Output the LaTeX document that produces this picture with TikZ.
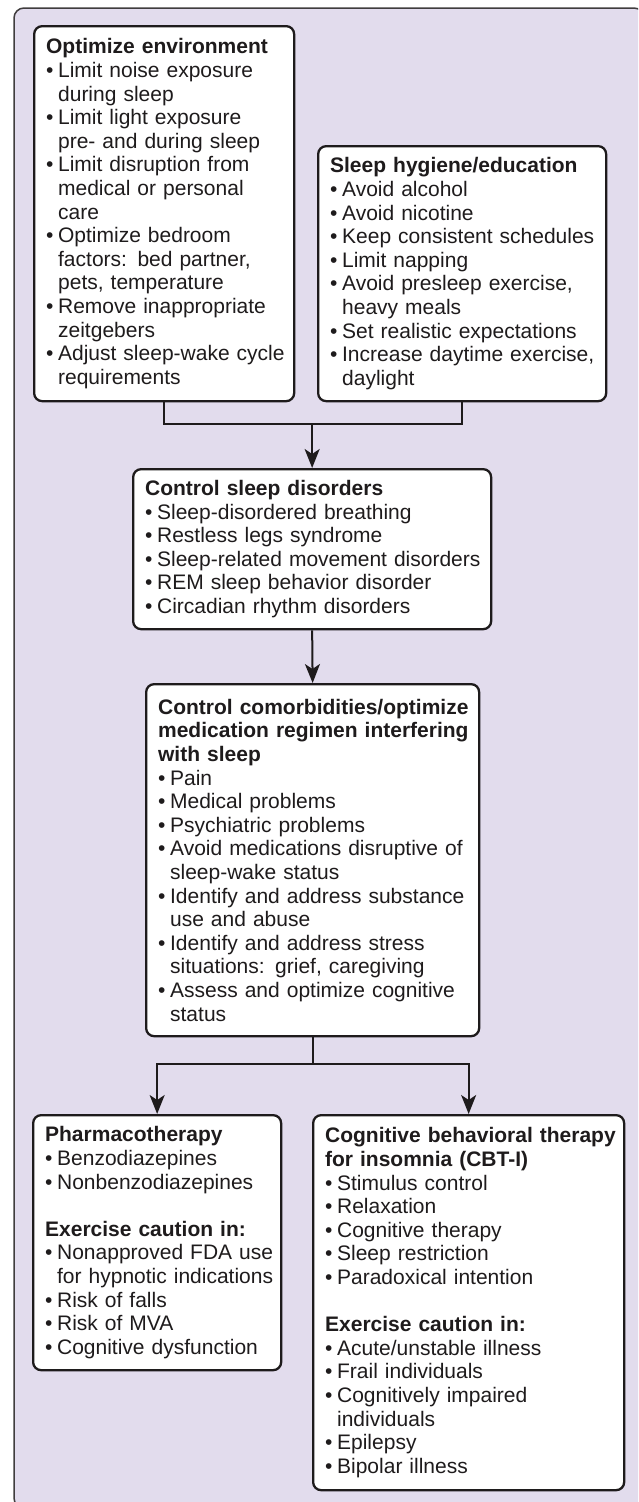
\documentclass[tikz,border=0pt]{standalone}
\usepackage{fontspec}
\setmainfont{Liberation Sans}
\usetikzlibrary{arrows.meta}

\definecolor{panelbg}{RGB}{226,220,237}
\definecolor{ink}{RGB}{30,27,28}

% box heading and bullet lines (hanging indent for wrapped lines)
\newcommand{\hd}[1]{\leftskip=12pt\relax\noindent\textbf{#1}}
\newcommand{\itm}[1]{\par\hangindent=12pt\hangafter=1\noindent\makebox[12pt][l]{\textbullet}#1}
\newcommand{\itmgap}{\par\vskip\baselineskip}

\begin{document}
\begin{tikzpicture}[x=1pt, y=-1pt,
    box/.style={draw=ink, line width=2.3pt, rounded corners=8pt, fill=white,
      text=ink, align=left, anchor=north west, inner xsep=0pt, inner ysep=0pt,
      font=\fontsize{21}{23.6}\selectfont},
    conn/.style={draw=ink, line width=2pt},
    arr/.style={conn, -{Stealth[length=19pt, width=15pt, inset=5pt]}}]
  \useasboundingbox (0,0) rectangle (638,1502);
  \begin{scope}
    \clip (0,0) rectangle (638,1502);
    \draw[fill=panelbg, draw=ink!85, line width=1.5pt, rounded corners=10pt]
      (14,8) rectangle (644,1508);
  \end{scope}

  \node[box, text width=260pt, minimum height=375pt] (env) at (33,25) {%
    \hd{Optimize environment}
    \itm{Limit noise exposure\newline during sleep}
    \itm{Limit light exposure\newline pre- and during sleep}
    \itm{Limit disruption from\newline medical or personal\newline care}
    \itm{Optimize bedroom\newline factors: bed partner,\newline pets, temperature}
    \itm{Remove inappropriate\newline zeitgebers}
    \itm{Adjust sleep-wake cycle\newline requirements}\par};
  \node[box, text width=288pt, minimum height=255pt] (hyg) at (317,145) {%
    \hd{Sleep hygiene/education}
    \itm{Avoid alcohol}
    \itm{Avoid nicotine}
    \itm{Keep consistent schedules}
    \itm{Limit napping}
    \itm{Avoid presleep exercise,\newline heavy meals}
    \itm{Set realistic expectations}
    \itm{Increase daytime exercise,\newline daylight}\par};
  \node[box, text width=358pt, minimum height=160pt] (dis) at (132,468) {%
    \hd{Control sleep disorders}
    \itm{Sleep-disordered breathing}
    \itm{Restless legs syndrome}
    \itm{Sleep-related movement disorders}
    \itm{REM sleep behavior disorder}
    \itm{Circadian rhythm disorders}\par};
  \node[box, text width=333pt, minimum height=352pt] (com) at (145,683) {%
    \hd{Control comorbidities/optimize\newline medication regimen interfering\newline with sleep}
    \itm{Pain}
    \itm{Medical problems}
    \itm{Psychiatric problems}
    \itm{Avoid medications disruptive of\newline sleep-wake status}
    \itm{Identify and address substance\newline use and abuse}
    \itm{Identify and address stress\newline situations: grief, caregiving}
    \itm{Assess and optimize cognitive\newline status}\par};
  \node[box, text width=248pt, minimum height=255pt] (pharm) at (32,1114) {%
    \hd{Pharmacotherapy}
    \itm{Benzodiazepines}
    \itm{Nonbenzodiazepines}
    \itmgap\hd{Exercise caution in:}
    \itm{Nonapproved FDA use\newline for hypnotic indications}
    \itm{Risk of falls}
    \itm{Risk of MVA}
    \itm{Cognitive dysfunction}\par};
  \node[box, text width=311pt, minimum height=375pt] (cbt) at (312,1114) {%
    \hd{Cognitive behavioral therapy\newline for insomnia (CBT-I)}
    \itm{Stimulus control}
    \itm{Relaxation}
    \itm{Cognitive therapy}
    \itm{Sleep restriction}
    \itm{Paradoxical intention}
    \itmgap\hd{Exercise caution in:}
    \itm{Acute/unstable illness}
    \itm{Frail individuals}
    \itm{Cognitively impaired\newline individuals}
    \itm{Epilepsy}
    \itm{Bipolar illness}\par};

  % merge and split points
  \path (dis.north) ++(0,-44) coordinate (mrg);
  \path (com.south) ++(0,27) coordinate (spl);

  \draw[conn] (env.south) |- (mrg) -| (hyg.south);
  \draw[arr] (mrg) -- (dis.north);
  \draw[arr] (dis.south) -- (com.north);
  \draw[conn] (com.south) -- (spl);
  \draw[arr] (spl) -| (pharm.north);
  \draw[arr] (spl) -| (cbt.north);
\end{tikzpicture}
\end{document}
